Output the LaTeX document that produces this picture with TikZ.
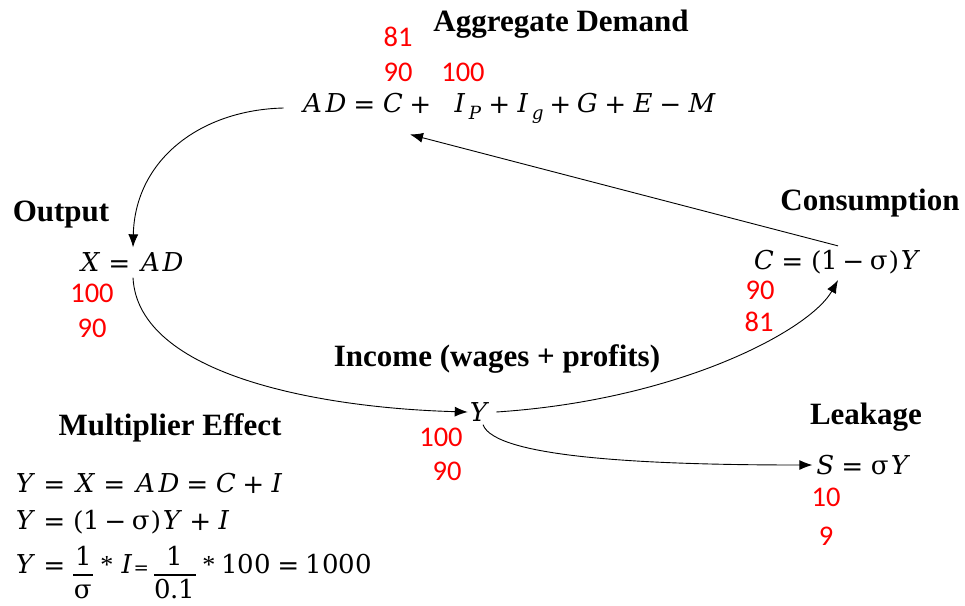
\documentclass[tikz,border=0pt]{standalone}
\usepackage{amsmath}
\usepackage{fontspec}
\usepackage{unicode-math}
\setmathfont{DejaVu Math TeX Gyre}
\usetikzlibrary{arrows.meta}
\newfontfamily\tnrfam{Liberation Serif}
\newfontfamily\numfam{Carlito}
\newcommand\sig{\symup{\sigma}}
\newcommand\mystar{\mathbin{\text{\tnrfam *}}}
\newcommand\lowfrac[2]{\raisebox{-9pt}{$\displaystyle\frac{#1}{#2}$}}
\tikzset{
  ttl/.style={inner sep=0pt, font=\tnrfam\bfseries\fontsize{31}{36}\selectfont},
  num/.style={inner sep=0pt, text=red, font=\numfam\fontsize{28.5}{34}\selectfont},
  eqn/.style={inner sep=0pt, font=\fontsize{26}{31}\selectfont},
  flow/.style={-{Latex[length=13pt,width=10pt]}, line width=0.9pt}
}
\begin{document}
\begin{tikzpicture}[x=1pt,y=-1pt]
\useasboundingbox (0,0) rectangle (965,605);
\clip (0,0) rectangle (965,605);
% titles
\node[ttl] (tad) at (561,24) {Aggregate Demand};
\node[ttl] (tout) at (61,215) {Output};
\node[ttl] (tcon) at (870,203) {Consumption};
\node[ttl] (tinc) at (497,359) {Income (wages + profits)};
\node[ttl] (tlea) at (866,417) {Leakage};
\node[ttl] (tmul) at (170,428) {Multiplier Effect};
% equations
\node[eqn] (ad) at (509,108) {$AD = C +\ \ I_P + I_g + G + E - M$};
\node[eqn] (x) at (131,262) {$X = AD$};
\node[eqn] (c) at (838,262) {$C = (1-\sig)Y$};
\node[eqn] (y) at (481,412) {$Y$};
\node[eqn] (s) at (864,465) {$S = \sig Y$};
\node[eqn, anchor=west] (m1) at (15,483) {$Y = X = AD = C + I$};
\node[eqn, anchor=west] (m2) at (15,522) {$Y = (1-\sig)Y + I$};
\node[eqn, anchor=base west] (m3) at (15,573) {$Y = \lowfrac{1}{\sig} \mystar I{\scriptstyle=}\,\lowfrac{1}{0.1} \mystar 100 = 1000$};
% numbers
\node[num] (n81a) at (398,37) {81};
\node[num] (n90a) at (398,72) {90};
\node[num] (n100a) at (463,72) {100};
\node[num] (n100b) at (92,293) {100};
\node[num] (n90b) at (92,328) {90};
\node[num] (n90c) at (760,290) {90};
\node[num] (n81c) at (759,322) {81};
\node[num] (n100d) at (441,437) {100};
\node[num] (n90d) at (447,471) {90};
\node[num] (n10) at (826,497) {10};
\node[num] (n9) at (826,536) {9};
% connectors
\draw[flow] ([xshift=-16pt]ad.west) .. controls (200,110) and (135,160) .. ([xshift=2pt,yshift=5pt]x.north);
\draw[flow] ([yshift=4pt]c.north) -- ([xshift=-99pt,yshift=-11pt]ad.south);
\draw[flow] ([xshift=2pt,yshift=-6pt]x.south) .. controls (138,375) and (320,408) .. ([xshift=-2pt]y.west);
\draw[flow] ([xshift=4pt]y.east) .. controls (680,400) and (810,330) .. ([yshift=-6pt]c.south);
\draw[flow] ([xshift=2pt,yshift=-3pt]y.south) .. controls (495,458) and (650,465) .. ([xshift=-3pt]s.west);
\end{tikzpicture}
\end{document}
